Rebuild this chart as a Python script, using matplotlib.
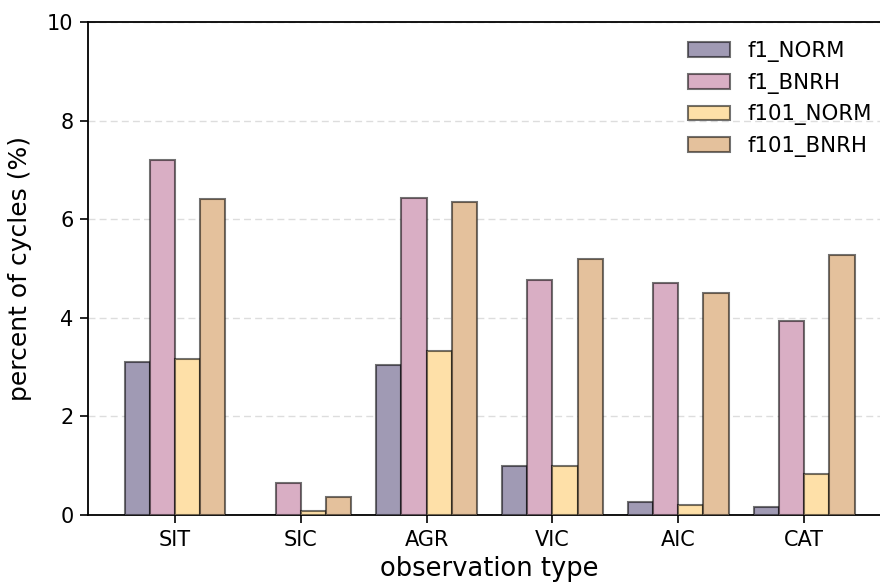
import matplotlib
matplotlib.use("Agg")
import matplotlib.pyplot as plt
import numpy as np

categories = ["SIT", "SIC", "AGR", "VIC", "AIC", "CAT"]
series_names = ["f1_NORM", "f1_BNRH", "f101_NORM", "f101_BNRH"]
f1_norm = [3.10, 0.01, 3.04, 0.99, 0.26, 0.17]
f1_bnrh = [7.20, 0.65, 6.43, 4.77, 4.71, 3.94]
f101_norm = [3.16, 0.08, 3.33, 0.99, 0.20, 0.83]
f101_bnrh = [6.41, 0.37, 6.35, 5.19, 4.50, 5.27]
colors = ["#a09ab4", "#d9aec4", "#fee0a8", "#e4c19c"]

series = [f1_norm, f1_bnrh, f101_norm, f101_bnrh]

fig = plt.figure(figsize=(8.8, 5.82), dpi=100)
ax = fig.add_axes([0.1, 0.115, 0.9125, 0.847])

x = np.arange(len(categories))
width = 0.2
for i, (vals, name, c) in enumerate(zip(series, series_names, colors)):
    ax.bar(x + (i - 1.5) * width, vals, width, label=name, facecolor=c,
           edgecolor=(0, 0, 0, 0.55), linewidth=1.5, zorder=3)

ax.set_ylim(0, 10)
ax.set_yticks([0, 2, 4, 6, 8, 10])
ax.set_xticks(x)
ax.set_xticklabels(categories)
ax.yaxis.grid(True, linestyle=(0, (5, 3)), color="#dddddd", linewidth=1.0, zorder=0)
ax.set_axisbelow(True)
ax.tick_params(axis="both", labelsize=15, length=5.5, width=1.2, pad=5)
for s in ax.spines.values():
    s.set_linewidth(1.3)
ax.set_xlabel("observation type", fontsize=18.5, labelpad=4.5)
ax.set_ylabel("percent of cycles (%)", fontsize=18, labelpad=11)
ax.legend(loc="upper right", frameon=False, fontsize=15.3)

fig.savefig("out.png", dpi=100)
